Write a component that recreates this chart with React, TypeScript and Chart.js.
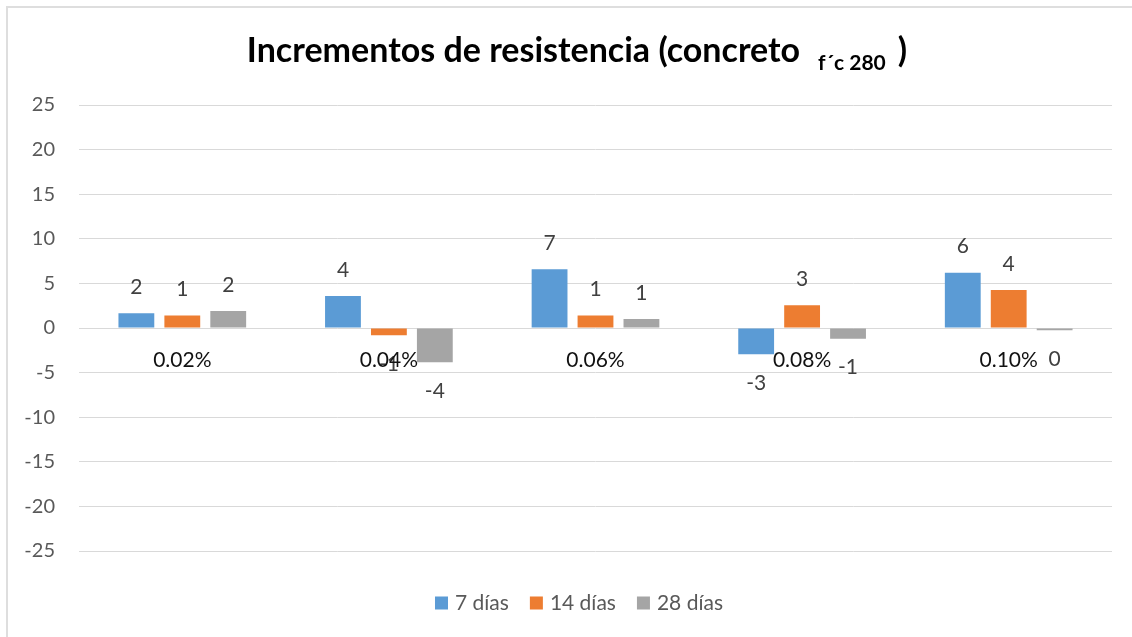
import React, { useEffect, useRef } from "react";
import { Chart, registerables } from "chart.js";

Chart.register(...registerables);

const categories = ["0.02%", "0.04%", "0.06%", "0.08%", "0.10%"];
const seriesNames = ["7 días", "14 días", "28 días"];
const dias7 = [1.65, 3.6, 6.6, -2.95, 6.2];
const dias14 = [1.4, -0.8, 1.4, 2.55, 4.25];
const dias28 = [1.9, -3.85, 1.0, -1.2, -0.25];
const seriesColors = ["#5B9BD5", "#ED7D31", "#A5A5A5"];
const yMin = -25;
const yMax = 25;
const yStep = 5;
const titleMain = "Incrementos de resistencia (concreto";
const titleSub = "f´c 280";
const titleEnd = ")";

const FONT = "Lato";
const CENTER_X = 577;

const overlay = {
  id: "overlay",
  afterDatasetsDraw(chart: any) {
    const ctx = chart.ctx;
    ctx.save();
    ctx.font = `21px ${FONT}`;
    ctx.fillStyle = "#404040";
    ctx.textAlign = "center";
    ctx.textBaseline = "middle";
    chart.data.datasets.forEach((ds: any, di: number) => {
      const meta = chart.getDatasetMeta(di);
      meta.data.forEach((bar: any, i: number) => {
        const v = ds.data[i] as number;
        let r = Math.round(v);
        if (Object.is(r, -0)) r = 0;
        const y = v >= 0 ? bar.y - 26 : bar.y + 29;
        ctx.fillText(String(r), bar.x, y);
      });
    });
    // category labels next to zero line
    const xs = chart.scales.x;
    const ys = chart.scales.y;
    const zeroY = ys.getPixelForValue(0);
    ctx.fillStyle = "#111111";
    categories.forEach((c, i) => {
      ctx.fillText(c, xs.getPixelForValue(i), zeroY + 32);
    });
    ctx.restore();
  },
  afterDraw(chart: any) {
    const ctx = chart.ctx;
    ctx.save();
    // Title with subscript
    ctx.textBaseline = "alphabetic";
    ctx.textAlign = "left";
    ctx.fillStyle = "#000000";
    const mainFont = `bold 34px ${FONT}`;
    const subFont = `bold 21px ${FONT}`;
    ctx.font = mainFont;
    const wMain = ctx.measureText(titleMain).width;
    const wEnd = ctx.measureText(titleEnd).width;
    ctx.font = subFont;
    const wSub = ctx.measureText(titleSub).width;
    const gap1 = 18;
    const gap2 = 12;
    const total = wMain + gap1 + wSub + gap2 + wEnd;
    let x = CENTER_X - total / 2;
    ctx.font = mainFont;
    ctx.fillText(titleMain, x, 62);
    x += wMain + gap1;
    ctx.font = subFont;
    ctx.fillText(titleSub, x, 70);
    x += wSub + gap2;
    ctx.font = mainFont;
    ctx.fillText(titleEnd, x, 62);

    // Legend
    ctx.font = `21px ${FONT}`;
    ctx.textBaseline = "middle";
    const box = 13;
    const boxGap = 7;
    const itemGap = 21;
    const widths = seriesNames.map((n) => box + boxGap + ctx.measureText(n).width);
    const legTotal = widths.reduce((a, b) => a + b, 0) + itemGap * (seriesNames.length - 1);
    let lx = CENTER_X + 2 - legTotal / 2;
    const ly = 603;
    seriesNames.forEach((n, i) => {
      ctx.fillStyle = seriesColors[i];
      ctx.fillRect(lx, ly - box / 2, box, box);
      ctx.fillStyle = "#595959";
      ctx.fillText(n, lx + box + boxGap, ly);
      lx += widths[i] + itemGap;
    });
    ctx.restore();
  },
};

export default function App() {
  const ref = useRef<HTMLCanvasElement | null>(null);
  useEffect(() => {
    if (!ref.current) return;
    const seriesData = [dias7, dias14, dias28];
    const chart = new Chart(ref.current, {
      type: "bar",
      data: {
        labels: categories,
        datasets: seriesNames.map((name, i) => ({
          label: name,
          data: seriesData[i],
          backgroundColor: seriesColors[i],
          borderWidth: 0,
          categoryPercentage: 0.667,
          barPercentage: 0.78,
        })),
      },
      options: {
        animation: false,
        responsive: false,
        devicePixelRatio: 1,
        layout: { padding: { top: 105, bottom: 86, left: 0, right: 20 } },
        plugins: {
          legend: { display: false },
          title: { display: false },
          tooltip: { enabled: false },
        },
        scales: {
          x: {
            display: false,
          },
          y: {
            min: yMin,
            max: yMax,
            ticks: {
              stepSize: yStep,
              padding: 24,
              color: "#595959",
              font: { family: FONT, size: 20 },
            },
            grid: { color: "#d9d9d9", lineWidth: 1, drawTicks: false },
            border: { display: false },
            afterFit: (scale: any) => {
              scale.width = 79;
            },
          },
        },
      },
      plugins: [overlay],
    });
    return () => chart.destroy();
  }, []);

  return (
    <div
      style={{
        position: "fixed",
        left: 0,
        top: 0,
        width: 1132,
        height: 637,
        background: "#ffffff",
        overflow: "hidden",
      }}
    >
      <div
        style={{
          position: "absolute",
          left: 6,
          top: 6,
          width: 1160,
          height: 660,
          border: "2px solid #dedede",
          boxSizing: "border-box",
        }}
      />
      <canvas
        ref={ref}
        width={1132}
        height={637}
        style={{ position: "absolute", left: 0, top: 0, width: 1132, height: 637, display: "block" }}
      />
    </div>
  );
}
